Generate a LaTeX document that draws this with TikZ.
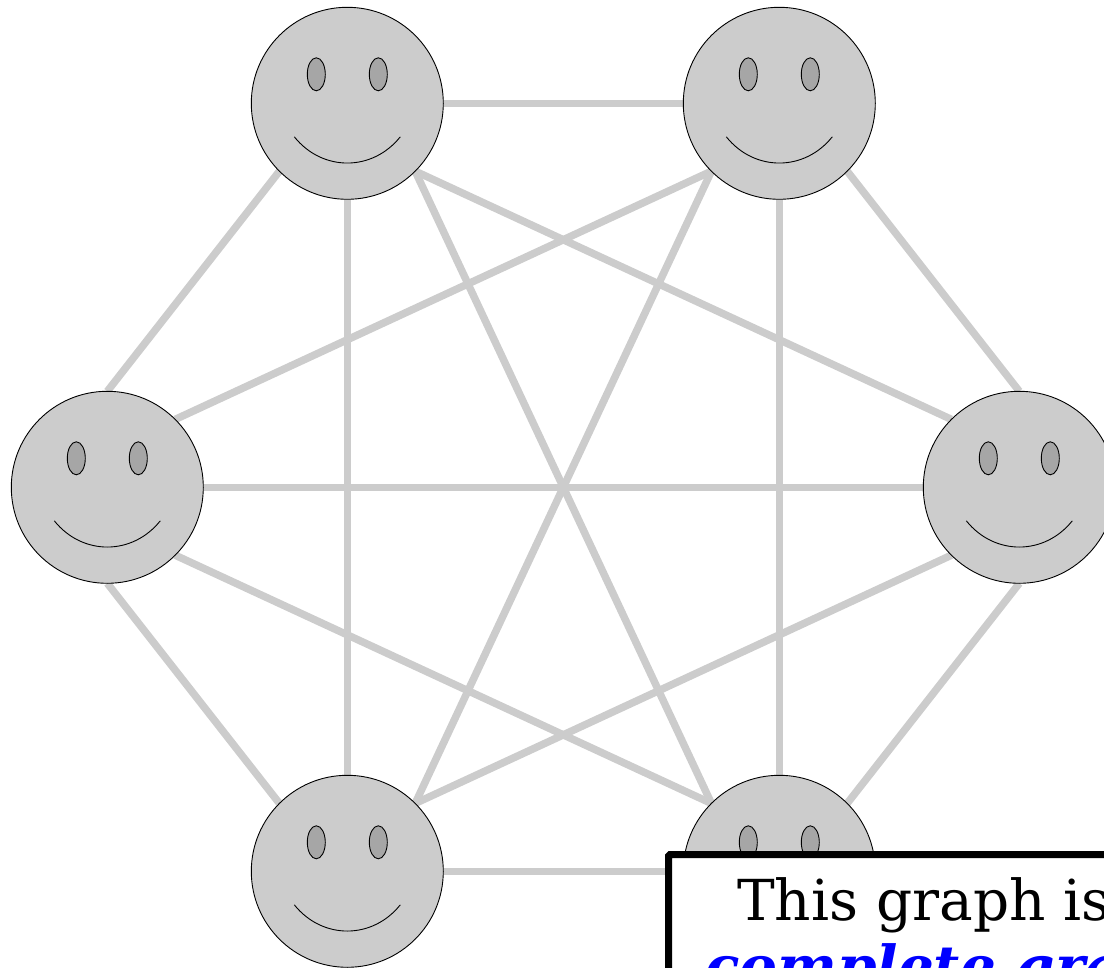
\documentclass[tikz,border=0pt]{standalone}
\usepackage{fontspec}
\setmainfont{DejaVu Serif}
\usetikzlibrary{backgrounds}
\definecolor{facegray}{HTML}{CCCCCC}
\definecolor{eyegray}{HTML}{A6A6A6}
\tikzset{
  x=1pt,y=-1pt,
  face/.style={circle,draw=black,fill=facegray,line width=0.9pt,minimum size=192pt,inner sep=0pt,outer sep=0pt},
  eye/.style={draw=black,fill=eyegray,line width=0.9pt},
  mouth/.style={draw=black,line width=0.9pt},
  graphedge/.style={draw=facegray,line width=7.5pt},
  notebox/.style={draw=black,fill=white,line width=7pt,rounded corners=1.5pt},
  notetext/.style={anchor=base west,inner sep=0pt,font=\fontsize{56.5pt}{66pt}\selectfont}
}
\begin{document}
\begin{tikzpicture}
\clip (0,0) rectangle (1104,968);
\foreach \n/\px/\py in {a/347.3/103.3,b/779.3/103.3,c/107.3/487.3,d/1019.3/487.3,e/347.3/871.3,f/779.3/871.3}{
  \node[face] (\n) at (\px,\py) {};
  \begin{scope}[shift={(\px,\py)}]
    \draw[eye] (-31,-29) ellipse [x radius=9,y radius=16.5];
    \draw[eye] (31,-29) ellipse [x radius=9,y radius=16.5];
    \draw[mouth] (-53,33.5) .. controls (-25,68.5) and (25,68.5) .. (53,33.5);
  \end{scope}
}
\begin{pgfonlayer}{background}
  \draw[graphedge] (a.east) -- (b.west);
  \draw[graphedge] (a.south west) -- (c.north);
  \draw[graphedge] (a.south) -- (e.north);
  \draw[graphedge] (a.south east) -- (d.north west);
  \draw[graphedge] (a.south east) -- (f.north west);
  \draw[graphedge] (b.south west) -- (c.north east);
  \draw[graphedge] (b.south west) -- (e.north east);
  \draw[graphedge] (b.south) -- (f.north);
  \draw[graphedge] (b.south east) -- (d.north);
  \draw[graphedge] (c.east) -- (d.west);
  \draw[graphedge] (c.south) -- (e.north west);
  \draw[graphedge] (c.south east) -- (f.north west);
  \draw[graphedge] (d.south west) -- (e.north east);
  \draw[graphedge] (d.south) -- (f.north east);
  \draw[graphedge] (e.east) -- (f.west);
\end{pgfonlayer}
\path[notebox] (668.5,854.5) rectangle (1300,1200);
\node[notetext] (line1) at (737,920) {This graph is};
\node[notetext,text=blue,font=\fontsize{56.5pt}{66pt}\selectfont\bfseries\itshape] (line2) at (705,986) {complete graph};
\end{tikzpicture}
\end{document}
